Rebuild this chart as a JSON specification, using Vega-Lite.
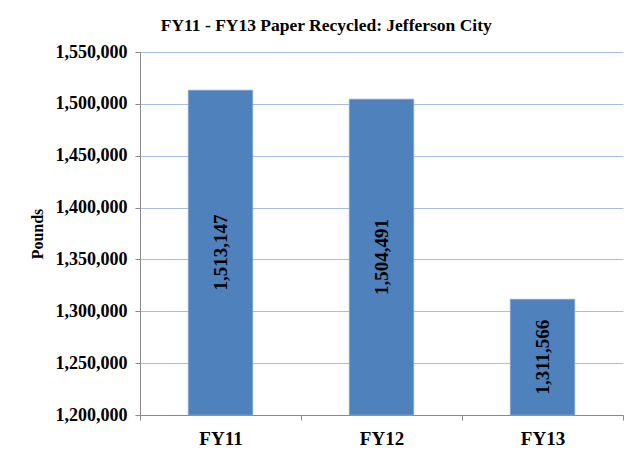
{
  "$schema": "https://vega.github.io/schema/vega-lite/v6.json",
  "width": 483,
  "height": 363,
  "autosize": {"type": "none"},
  "padding": {"left": 140, "top": 52, "right": 11, "bottom": 43},
  "background": "white",
  "config": {
    "view": {"stroke": null},
    "font": "Liberation Serif"
  },
  "title": {
    "text": "FY11 - FY13 Paper Recycled:  Jefferson City",
    "font": "Liberation Serif",
    "fontSize": 17.5,
    "fontWeight": "bold",
    "color": "black",
    "anchor": "middle",
    "frame": "bounds",
    "offset": 9
  },
  "data": {
    "values": [
      {"year": "FY11", "pounds": 1513147},
      {"year": "FY12", "pounds": 1504491},
      {"year": "FY13", "pounds": 1311566}
    ]
  },
  "transform": [
    {"calculate": "1200000", "as": "base"},
    {"calculate": "(datum.pounds + 1200000) / 2", "as": "mid"}
  ],
  "encoding": {
    "x": {
      "field": "year",
      "type": "nominal",
      "sort": null,
      "scale": {"paddingInner": 0, "paddingOuter": 0},
      "axis": {
        "title": null,
        "labelAngle": 0,
        "labelFont": "Liberation Serif",
        "labelFontSize": 19,
        "labelFontWeight": "bold",
        "labelColor": "black",
        "labelPadding": 9,
        "tickBand": "extent",
        "tickColor": "#898989",
        "tickSize": 5,
        "domainColor": "#898989",
        "grid": false
      }
    }
  },
  "layer": [
    {
      "mark": {"type": "bar", "width": {"band": 0.4}, "color": "#4F81BD", "stroke": "#7EA3D3", "strokeWidth": 0.8},
      "encoding": {
        "y": {
          "field": "pounds",
          "type": "quantitative",
          "scale": {"domain": [1200000, 1550000], "zero": false, "nice": false},
          "axis": {
            "title": "Pounds",
            "titleFont": "Liberation Serif",
            "titleFontSize": 16,
            "titleFontWeight": "bold",
            "titleColor": "black",
            "titlePadding": 10,
            "format": ",d",
            "values": [1200000, 1250000, 1300000, 1350000, 1400000, 1450000, 1500000, 1550000],
            "labelFont": "Liberation Serif",
            "labelFontSize": 18,
            "labelFontWeight": "bold",
            "labelColor": "black",
            "labelPadding": 8,
            "tickColor": "#898989",
            "tickSize": 5,
            "domainColor": "#898989",
            "grid": true,
            "gridColor": "#A3BEE0",
            "gridWidth": 1
          }
        },
        "y2": {"field": "base"}
      }
    },
    {
      "mark": {"type": "text", "angle": 270, "font": "Liberation Serif", "fontSize": 19, "fontWeight": "bold", "color": "black", "baseline": "middle", "align": "center"},
      "encoding": {
        "y": {"field": "mid", "type": "quantitative"},
        "text": {"field": "pounds", "type": "quantitative", "format": ",d"}
      }
    }
  ]
}
